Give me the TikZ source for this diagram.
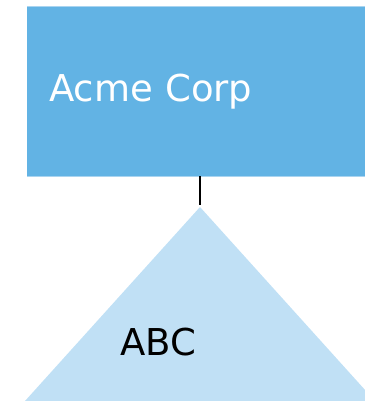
\documentclass[tikz,border=0pt]{standalone}
\usepackage{fontspec}
\setmainfont{DejaVu Sans}
\definecolor{corpblue}{HTML}{62B3E4}
\definecolor{corpedge}{HTML}{A9D4F0}
\definecolor{unitblue}{HTML}{C0E0F5}
\begin{document}
\begin{tikzpicture}[x=1pt,y=1pt,
  orgbox/.style={fill=corpblue, minimum height=169pt,
    text width=320pt, align=left, inner xsep=22pt, text=white, font=\fontsize{37}{40}\selectfont},
  boxedge/.style={draw=corpedge, line width=1pt},
  link/.style={draw=black, line width=1.8pt},
  unitlabel/.style={text=black, font=\fontsize{37}{40}\selectfont}]
\useasboundingbox (0,0) rectangle (364,-401);
% parent organisation box, running off the right edge
\node[orgbox, anchor=north west] (corp) at (27,-7) {Acme Corp};
\draw[boxedge] (corp.north west) -- (corp.north east);
\draw[boxedge] (corp.south west) -- (corp.south east);
% child unit triangle
\coordinate (apex) at (200,-207);
\coordinate (linkend) at (200,-205);
\fill[unitblue] (apex) -- (375,-401) -- (25,-401) -- cycle;
\node[unitlabel] (abc) at (158,-342) {ABC};
\draw[link] (corp.south -| linkend) -- (linkend);
\end{tikzpicture}
\end{document}
